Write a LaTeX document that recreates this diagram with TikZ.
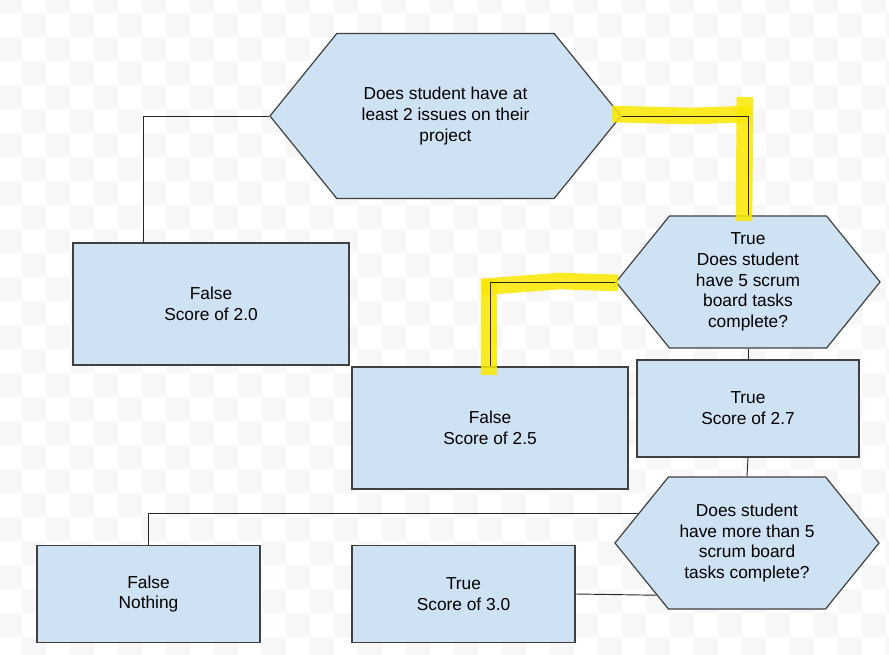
\documentclass[tikz,border=0pt]{standalone}
\usepackage{fontspec}
\setmainfont{Liberation Sans}
\usetikzlibrary{shapes.symbols}
\definecolor{boxfill}{RGB}{207,226,243}
\definecolor{boxline}{RGB}{64,64,64}
\definecolor{marker}{RGB}{250,232,0}
\definecolor{checker}{RGB}{247,247,247}
\begin{document}
\begin{tikzpicture}[x=0.75pt,y=-0.75pt,
    every node/.style={font=\fontsize{13}{15.6}\selectfont, align=center, inner sep=0pt},
    decision/.style={signal, signal to=east and west, signal pointer angle=102,
        draw=boxline, fill=boxfill, line width=0.9pt},
    result/.style={rectangle, draw=boxline, fill=boxfill, line width=0.9pt},
    link/.style={draw=black!85, line width=0.7pt},
    highlight/.style={draw=marker, opacity=0.85, line width=12.5pt}]
            \useasboundingbox (0,0) rectangle (889,655);
            % transparency grid behind the drawing
            \begin{scope}
            \clip (0,0) rectangle (889,655);
            \foreach \i in {0,2,...,36} {
                \foreach \j in {0,2,...,26} {
                    \fill[checker] (\i*24-2,\j*24-11) rectangle +(24,24);
                    \fill[checker] (\i*24+22,\j*24+13) rectangle +(24,24);
                }
            }
            \end{scope}
            \node[decision, minimum width=263.25pt, minimum height=123.75pt] (q1) at (445.5, 116) {Does student have at\\least 2 issues on their\\project};
            \node[decision, minimum width=198pt, minimum height=99pt] (q2) at (748, 282) {True\\Does student\\have 5 scrum\\board tasks\\complete?};
            \node[decision, minimum width=198pt, minimum height=99pt] (q3) at (747, 543) {Does student\\have more than 5\\scrum board\\tasks complete?};
            \node[result, minimum width=207pt, minimum height=91.5pt] (s20) at (211, 304) {False\\Score of 2.0};
            \node[result, minimum width=207pt, minimum height=91.5pt] (s25) at (490, 428) {False\\Score of 2.5};
            \node[result, minimum width=166.5pt, minimum height=72.75pt] (s27) at (748, 408.5) {True\\Score of 2.7};
            \node[result, minimum width=167.25pt, minimum height=72.75pt] (none) at (148.5, 594) {False\\Nothing};
            \node[result, minimum width=167.25pt, minimum height=72.75pt] (s30) at (463.5, 594) {True\\Score of 3.0};
            % marker strokes
            \draw[highlight] (612, 114) -- (690, 116) -- (752, 114);
            \draw[highlight] (745, 97) -- (744, 221);
            \draw[highlight] (618, 283) -- (560, 281) -- (482, 287);
            \draw[highlight] (489, 279) -- (489, 375);
            \draw[link] (q1.west) -| ([xshift=53.25pt]s20.north west);
            \draw[link] (q1.east) -| (q2.north);
            \draw[link] (q2.west) -| (s25.north);
            \draw[link] (q2.south) -- (s27.north);
            \draw[link] (s27.south) -- (q3.north);
            \draw[link] (q3.165) -| (none.north);
            \draw[link] (s30.east) -- (q3.210);
\end{tikzpicture}
\end{document}
